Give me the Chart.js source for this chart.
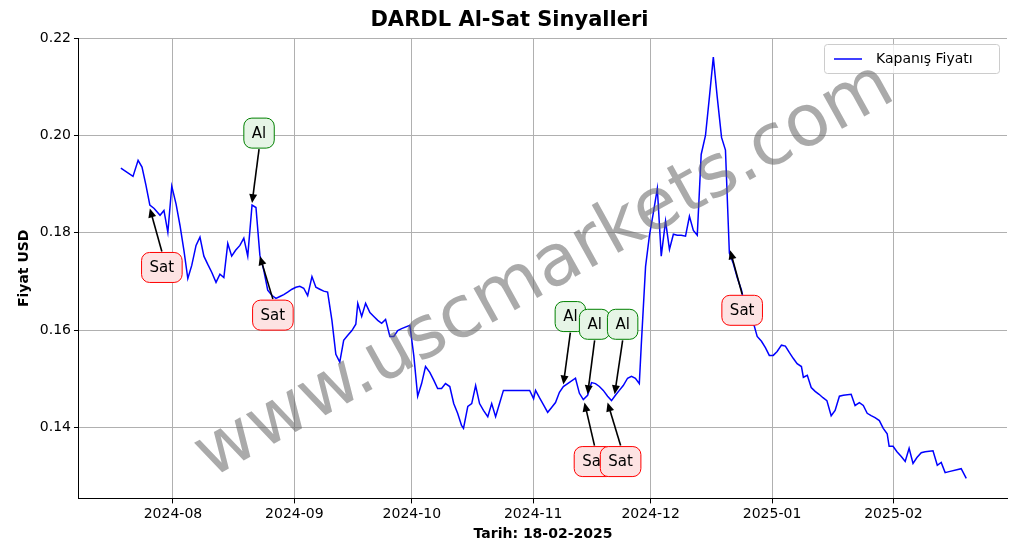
<!DOCTYPE html>
<html><head><meta charset="utf-8">
<script src="https://cdn.jsdelivr.net/npm/chart.js@4/dist/chart.umd.min.js"></script>
<style>html,body{margin:0;background:#fff}#w{width:1017px;height:554px}</style>
</head><body><div id="w"><canvas id="c"></canvas></div>
<script>
// days since 2024-08-01
const days=[-13.3,-10.2,-8.9,-7.9,-6.9,-5.9,-4.8,-3.3,-2.3,-1.3,-0.3,0.8,1.8,2.8,3.8,4.8,5.9,6.9,7.9,8.9,9.9,11,12,13,14,15,16,17.1,18.1,19.1,20.2,21.2,22.2,23.2,24.2,25.3,26.3,27.3,28.3,29.3,30.4,31.4,32.4,33.4,34.4,35.5,36.5,37.5,38.5,39.5,40.6,41.6,42.6,43.6,44.6,45.7,46.7,47.2,48.2,49.2,50.3,51.3,52.3,53.3,54.3,55.4,56.4,57.4,58.4,60.5,61.5,62.5,63.5,64.5,65.6,66.6,67.6,68.6,69.6,70.7,71.7,72.7,73.7,74.2,75.3,76.3,77.3,78.3,79.3,80.4,81.4,82.4,83.4,84.4,85.5,89.5,91.1,92.1,92.6,93.6,94.6,95.7,96.7,97.7,98.7,99.7,100.8,102.8,103.8,104.8,105.9,106.9,107.9,108.9,109.9,111,112,113,114,115,116.1,117.1,118.1,119.1,119.6,120.7,121.7,122.7,123.7,124.7,125.8,126.8,127.8,128.8,129.8,130.9,131.9,132.9,133.9,134.9,136,137,138,139,140.1,141.1,142.1,143.1,144.1,145.2,146.2,147.2,148.2,149.2,150.3,151.3,152.3,153.3,154.3,155.4,156.4,157.4,158.4,159.4,160.5,161,162,163,164,165,166,167,168.1,169.1,170.2,171.2,173.2,174.2,175.3,176.3,177.3,178.3,179.3,180.4,181.4,182.4,182.9,183.9,184.9,186,187,188,189,190,191.1,192.1,194.1,195.2,196.2,197.2,198.2,201.3,202.6];
const prices=[0.1933,0.1916,0.1949,0.1935,0.1898,0.1857,0.1850,0.1836,0.1846,0.1801,0.1896,0.1859,0.1815,0.1764,0.1706,0.1733,0.1774,0.1791,0.1752,0.1735,0.1719,0.1698,0.1715,0.1708,0.1778,0.1752,0.1764,0.1774,0.1789,0.1752,0.1857,0.1852,0.1754,0.1723,0.1682,0.1671,0.1665,0.1669,0.1673,0.1678,0.1684,0.1688,0.1690,0.1686,0.1671,0.1710,0.1688,0.1684,0.1680,0.1678,0.1620,0.1550,0.1534,0.1579,0.1589,0.1599,0.1612,0.1655,0.1628,0.1655,0.1636,0.1628,0.1620,0.1614,0.1622,0.1587,0.1587,0.1599,0.1603,0.1610,0.1548,0.1464,0.1490,0.1525,0.1513,0.1497,0.1480,0.1480,0.1490,0.1484,0.1449,0.1429,0.1404,0.1398,0.1443,0.1449,0.1486,0.1449,0.1435,0.1422,0.1449,0.1422,0.1449,0.1476,0.1476,0.1476,0.1476,0.1459,0.1476,0.1461,0.1447,0.1431,0.1441,0.1451,0.1472,0.1484,0.1490,0.1501,0.1470,0.1457,0.1466,0.1492,0.1490,0.1484,0.1476,0.1464,0.1455,0.1466,0.1476,0.1486,0.1501,0.1505,0.1501,0.1490,0.1569,0.1731,0.1795,0.1842,0.1891,0.1752,0.1824,0.1766,0.1797,0.1795,0.1795,0.1793,0.1834,0.1805,0.1795,0.1961,0.2000,0.2079,0.2161,0.2079,0.1996,0.1970,0.1758,0.1737,0.1708,0.1682,0.1641,0.1626,0.1616,0.1587,0.1577,0.1564,0.1548,0.1548,0.1556,0.1569,0.1567,0.1554,0.1542,0.1531,0.1525,0.1503,0.1507,0.1482,0.1474,0.1468,0.1461,0.1455,0.1424,0.1435,0.1464,0.1466,0.1468,0.1445,0.1451,0.1445,0.1429,0.1424,0.1420,0.1414,0.1398,0.1387,0.1361,0.1361,0.1350,0.1340,0.1330,0.1357,0.1326,0.1338,0.1348,0.1350,0.1352,0.1322,0.1328,0.1307,0.1309,0.1315,0.1295];
const tickDays=[0,31,61,92,122,153,184];
const tickLabels=['2024-08','2024-09','2024-10','2024-11','2024-12','2025-01','2025-02'];
const yTicks=[0.14,0.16,0.18,0.20,0.22];
const sigType=['Sat','Al','Sat','Al','Al','Sat','Sat','Al','Sat'];
const sigDay=[-5.9,20.2,22.2,99.7,105.9,105.1,111,112.8,142.3];
const sigVal=[0.1850,0.1861,0.1752,0.1488,0.1468,0.1451,0.1451,0.1468,0.1764];
const sigDx=[12,7,13,7,7,10,13,8,12];
const sigDy=[59,-70,59,-68,-70,59,59,-70,60];

const F='"DejaVu Sans"';
const deco={id:'deco',afterDatasetsDraw(ch){
  const c=ch.ctx,x=ch.scales.x,y=ch.scales.y;
  c.save();
  c.fillStyle='rgba(255,255,255,0.8)';c.strokeStyle='#ccc';c.lineWidth=1;
  rr(c,824.5,44.5,175,29,3);c.fill();c.stroke();
  c.strokeStyle='blue';c.lineWidth=1.5;c.beginPath();c.moveTo(834,59);c.lineTo(862,59);c.stroke();
  c.fillStyle='#000';c.font='14px '+F;c.textBaseline='middle';c.fillText('Kapanış Fiyatı',876,59);
  for(let i=0;i<sigType.length;i++){
    const tx=x.getPixelForValue(sigDay[i]),ty=y.getPixelForValue(sigVal[i]);
    const lx=tx+sigDx[i],ly=ty+sigDy[i];
    const al=sigType[i]==='Al';
    const ey=ly+(al?16:-16);
    const ang=Math.atan2(ty-ey,tx-lx);
    c.strokeStyle='#000';c.lineWidth=1.6;c.beginPath();c.moveTo(lx,ey);c.lineTo(tx-Math.cos(ang)*6,ty-Math.sin(ang)*6);c.stroke();
    c.fillStyle='#000';c.beginPath();c.moveTo(tx,ty);
    c.lineTo(tx-Math.cos(ang)*9+Math.sin(ang)*4,ty-Math.sin(ang)*9-Math.cos(ang)*4);
    c.lineTo(tx-Math.cos(ang)*9-Math.sin(ang)*4,ty-Math.sin(ang)*9+Math.cos(ang)*4);c.fill();
    c.font='15px '+F;const w=c.measureText(sigType[i]).width+16;
    c.fillStyle=al?'#e6f5e6':'#fde3e3';c.strokeStyle=al?'green':'red';c.lineWidth=1;
    rr(c,lx-w/2,ly-15,w,30,8);c.fill();c.stroke();
    c.fillStyle='#000';c.textAlign='center';c.fillText(sigType[i],lx,ly+1);c.textAlign='left';
  }
  c.translate(545,272);c.rotate(-29*Math.PI/180);
  c.font='72px '+F;c.fillStyle='rgba(100,100,100,0.55)';c.textAlign='center';c.textBaseline='middle';
  c.fillText('www.uscmarkets.com',0,0);
  c.restore();
}};
function rr(c,x,y,w,h,r){c.beginPath();c.moveTo(x+r,y);c.arcTo(x+w,y,x+w,y+h,r);c.arcTo(x+w,y+h,x,y+h,r);c.arcTo(x,y+h,x,y,r);c.arcTo(x,y,x+w,y,r);c.closePath();}

new Chart(document.getElementById('c'),{type:'line',
data:{datasets:[{data:days.map((d,i)=>({x:d,y:prices[i]})),borderColor:'blue',borderWidth:1.5,pointRadius:0,tension:0}]},
options:{responsive:true,maintainAspectRatio:false,animation:false,
 layout:{padding:{left:12,right:10,top:5,bottom:7}},
 plugins:{legend:{display:false},tooltip:{enabled:false},
  title:{display:true,text:'DARDL Al-Sat Sinyalleri',color:'#000',font:{family:F,size:21,weight:'bold'},padding:{top:3,bottom:5}}},
 scales:{
  x:{type:'linear',min:-24,max:213,afterBuildTicks:s=>{s.ticks=tickDays.map(v=>({value:v}))},
   ticks:{callback:v=>tickLabels[tickDays.indexOf(v)],color:'#000',font:{family:F,size:14},maxRotation:0,autoSkip:false},
   grid:{color:'#b0b0b0',drawTicks:true,tickLength:5,tickColor:'#000'},border:{color:'#000'},
   title:{display:true,text:'Tarih: 18-02-2025',color:'#000',font:{family:F,size:14,weight:'bold'},padding:{top:0}}},
  y:{min:0.1254,max:0.22,afterBuildTicks:s=>{s.ticks=yTicks.map(v=>({value:v}))},
   ticks:{callback:v=>v.toFixed(2),color:'#000',font:{family:F,size:14}},
   grid:{color:'#b0b0b0',tickLength:5,tickColor:'#000'},border:{color:'#000'},
   title:{display:true,text:'Fiyat USD',color:'#000',font:{family:F,size:14,weight:'bold'}}}
 }},plugins:[deco]});
</script></body></html>
